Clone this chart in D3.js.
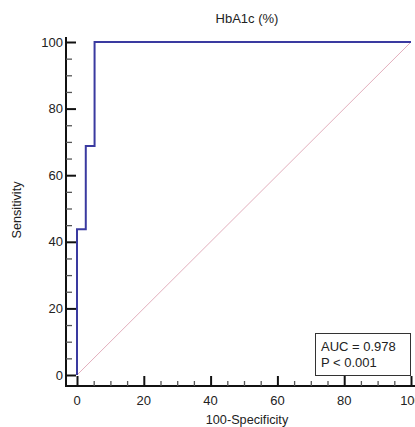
<!DOCTYPE html>
<html><head><meta charset="utf-8">
<script src="https://cdn.jsdelivr.net/npm/d3@7"></script>
<style>body{margin:0;background:#fff}svg{display:block;font-family:"Liberation Sans",Arial,sans-serif}</style>
</head><body><svg id="c" width="415" height="427"></svg>
<script>
const title = "HbA1c (%)";
const xLabel = "100-Specificity";
const yLabel = "Sensitivity";
const fpr = [0, 0, 2.63, 2.63, 5.26, 5.26, 100];
const tpr = [0, 43.75, 43.75, 68.75, 68.75, 100, 100];
const diagX = [0, 100];
const diagY = [0, 100];
const majorTicks = [0, 20, 40, 60, 80, 100];
const minorTicks = d3.range(0, 101, 5).filter(v => v % 20 !== 0);
const legendLines = ["AUC = 0.978", "P < 0.001"];

const svg = d3.select("#c");
const x = d3.scaleLinear().domain([0, 100]).range([77, 411]);
const y = d3.scaleLinear().domain([0, 100]).range([375, 42]);
const axisX = 66, axisY = 386;

svg.append("line").attr("x1", axisX).attr("x2", axisX).attr("y1", 37).attr("y2", axisY + 1)
  .attr("stroke", "#111").attr("stroke-width", 2);
svg.append("line").attr("x1", axisX - 1).attr("x2", 415).attr("y1", axisY).attr("y2", axisY)
  .attr("stroke", "#111").attr("stroke-width", 2);

const gy = svg.append("g").attr("transform", `translate(${axisX},0)`)
  .call(d3.axisRight(y).tickValues(majorTicks).tickSize(10).tickFormat(""));
gy.select(".domain").remove();
gy.selectAll("line").attr("stroke", "#111").attr("stroke-width", 2);
const gym = svg.append("g").attr("transform", `translate(${axisX},0)`)
  .call(d3.axisRight(y).tickValues(minorTicks).tickSize(6).tickFormat(""));
gym.select(".domain").remove();
gym.selectAll("line").attr("stroke", "#555").attr("stroke-width", 1.3);
svg.append("g").selectAll("text").data(majorTicks).join("text")
  .attr("x", 63).attr("y", d => y(d) + 4.5).attr("text-anchor", "end")
  .attr("font-size", 13).attr("fill", "#222").text(d => d);

const gx = svg.append("g").attr("transform", `translate(0,${axisY})`)
  .call(d3.axisTop(x).tickValues(majorTicks).tickSize(10).tickFormat(""));
gx.select(".domain").remove();
gx.selectAll("line").attr("stroke", "#111").attr("stroke-width", 2);
const gxm = svg.append("g").attr("transform", `translate(0,${axisY})`)
  .call(d3.axisTop(x).tickValues(minorTicks).tickSize(5).tickFormat(""));
gxm.select(".domain").remove();
gxm.selectAll("line").attr("stroke", "#555").attr("stroke-width", 1.3);
svg.append("g").selectAll("text").data(majorTicks).join("text")
  .attr("x", d => x(d)).attr("y", 405).attr("text-anchor", "middle")
  .attr("font-size", 13).attr("fill", "#222").text(d => d);

svg.append("path").datum(d3.zip(diagX, diagY))
  .attr("d", d3.line().x(d => x(d[0])).y(d => y(d[1])))
  .attr("fill", "none").attr("stroke", "#e3afbd").attr("stroke-width", 1);

svg.append("path").datum(d3.zip(fpr, tpr))
  .attr("d", d3.line().x(d => x(d[0])).y(d => y(d[1])))
  .attr("fill", "none").attr("stroke", "#3a3aa0").attr("stroke-width", 2);

svg.append("text").attr("x", 247).attr("y", 23).attr("text-anchor", "middle")
  .attr("font-size", 13).attr("fill", "#222").text(title);
svg.append("text").attr("x", 247).attr("y", 424).attr("text-anchor", "middle")
  .attr("font-size", 12.7).attr("fill", "#222").text(xLabel);
svg.append("text").attr("transform", "translate(21,210) rotate(-90)").attr("text-anchor", "middle")
  .attr("font-size", 12.7).attr("fill", "#222").text(yLabel);

svg.append("rect").attr("x", 315.5).attr("y", 333.5).attr("width", 95).attr("height", 42)
  .attr("fill", "#fff").attr("stroke", "#333").attr("stroke-width", 1);
svg.append("g").selectAll("text").data(legendLines).join("text")
  .attr("x", 321).attr("y", (d, i) => 351 + i * 16).attr("font-size", 13).attr("fill", "#222").text(d => d);
</script></body></html>
